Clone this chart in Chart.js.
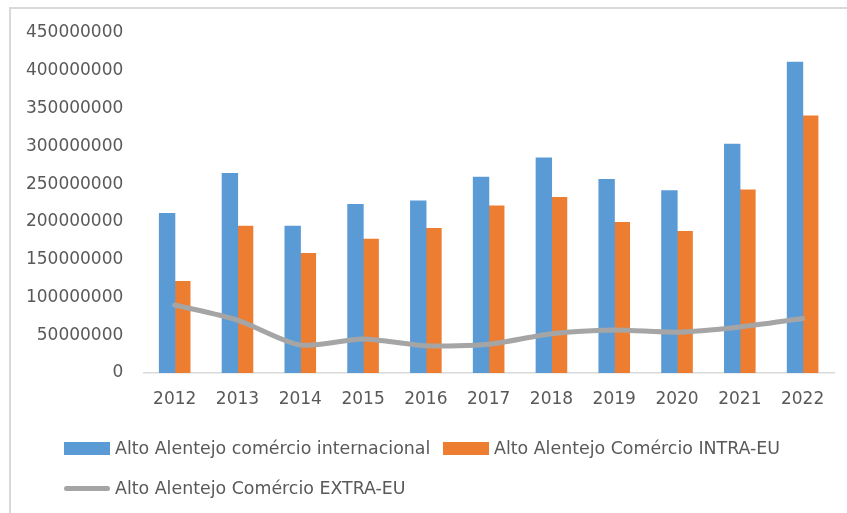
<!DOCTYPE html>
<html>
<head>
<meta charset="utf-8">
<script src="https://cdn.jsdelivr.net/npm/chart.js@4/dist/chart.umd.min.js"></script>
<style>
  html, body { margin: 0; padding: 0; background: #ffffff; overflow: hidden; width: 847px; height: 513px; }
  #c { position: absolute; left: 0; top: 0; }
  #legend { position: absolute; left: 0; top: 0; width: 847px; height: 513px; pointer-events: none;
            font-family: "DejaVu Sans", sans-serif; font-size: 17.4px; color: #595959; }
  .item { position: absolute; display: flex; align-items: center; height: 20px; line-height: 20px; white-space: nowrap; }
  .sw-box { width: 46px; height: 13px; margin-right: 5px; }
  .sw-line { width: 46px; height: 5px; border-radius: 2.5px; margin-right: 5px; }
</style>
</head>
<body>
<canvas id="c" width="847" height="513"></canvas>
<div id="legend"></div>
<script>
const categories = ["2012","2013","2014","2015","2016","2017","2018","2019","2020","2021","2022"];
const seriesNames = [
  "Alto Alentejo comércio internacional",
  "Alto Alentejo Comércio INTRA-EU",
  "Alto Alentejo Comércio EXTRA-EU"
];
const internacional = [211000000, 264000000, 194000000, 223000000, 227500000, 259000000, 284500000, 256000000, 241000000, 302500000, 411000000];
const intraEU = [121000000, 194000000, 158000000, 177000000, 191000000, 221000000, 232000000, 199000000, 187000000, 242000000, 340000000];
const extraEU = [90000000, 70000000, 37000000, 45000000, 36000000, 38000000, 52000000, 57000000, 54000000, 61000000, 72000000];
const yTicks = [0, 50000000, 100000000, 150000000, 200000000, 250000000, 300000000, 350000000, 400000000, 450000000];

const colors = ["#5b9bd5", "#ed7d31", "#a5a5a5"];
const textColor = "#595959";
const tickFont = { family: "'DejaVu Sans', sans-serif", size: 17 };
const legendOrder = [1, 2, 0]; // dataset indices in legend order

const chartFrame = {
  id: 'chartFrame',
  beforeDraw(chart) {
    const ctx = chart.ctx;
    ctx.save();
    ctx.strokeStyle = '#d9d9d9';
    ctx.lineWidth = 2;
    ctx.beginPath();
    ctx.moveTo(10, chart.height + 5);
    ctx.lineTo(10, 8);
    ctx.lineTo(chart.width + 5, 8);
    ctx.stroke();
    ctx.restore();
  }
};

const htmlLegend = {
  id: 'htmlLegend',
  afterUpdate(chart) {
    const box = document.getElementById('legend');
    box.innerHTML = '';
    const items = chart.options.plugins.legend.labels.generateLabels(chart)
      .sort((a, b) => legendOrder.indexOf(a.datasetIndex) - legendOrder.indexOf(b.datasetIndex));
    const pos = [ {left: 64, top: 438}, {left: 443, top: 438}, {left: 64, top: 478} ];
    items.forEach((it, i) => {
      const el = document.createElement('div');
      el.className = 'item';
      el.style.left = pos[i].left + 'px';
      el.style.top = pos[i].top + 'px';
      const sw = document.createElement('span');
      const isLine = chart.data.datasets[it.datasetIndex].type === 'line';
      sw.className = isLine ? 'sw-line' : 'sw-box';
      sw.style.background = isLine ? it.strokeStyle : it.fillStyle;
      const tx = document.createElement('span');
      tx.textContent = it.text;
      el.appendChild(sw);
      el.appendChild(tx);
      box.appendChild(el);
    });
  }
};

new Chart(document.getElementById('c'), {
  data: {
    labels: categories,
    datasets: [
      { type: 'line', label: seriesNames[2], data: extraEU, borderColor: colors[2], backgroundColor: colors[2],
        borderWidth: 5, pointRadius: 0, pointHoverRadius: 0, tension: 0.25, borderCapStyle: 'round',
        borderJoinStyle: 'round', fill: false, order: 0 },
      { type: 'bar', label: seriesNames[0], data: internacional, backgroundColor: colors[0], borderWidth: 0, order: 1 },
      { type: 'bar', label: seriesNames[1], data: intraEU, backgroundColor: colors[1], borderWidth: 0, order: 2 }
    ]
  },
  options: {
    responsive: false,
    animation: false,
    devicePixelRatio: 1,
    layout: { padding: { left: 0, right: 13, top: 33, bottom: 90 } },
    datasets: { bar: { categoryPercentage: 0.484, barPercentage: 1.0, inflateAmount: 0.6 } },
    plugins: {
      legend: { display: false },
      tooltip: { enabled: false }
    },
    scales: {
      x: {
        offset: true,
        grid: { display: false, drawTicks: false },
        border: { display: true, color: "#d9d9d9", width: 1.5 },
        ticks: { color: textColor, font: tickFont, padding: 16, maxRotation: 0 },
        afterFit(scale) { scale.height = 50; }
      },
      y: {
        min: 0, max: 450000000,
        grid: { display: false, drawTicks: false },
        border: { display: false },
        afterBuildTicks(scale) { scale.ticks = yTicks.map(v => ({ value: v })); },
        ticks: { color: textColor, font: tickFont, padding: 20, callback: (v) => String(v) },
        afterFit(scale) { scale.width = 143.3; }
      }
    }
  },
  plugins: [chartFrame, htmlLegend]
});
</script>
</body>
</html>
